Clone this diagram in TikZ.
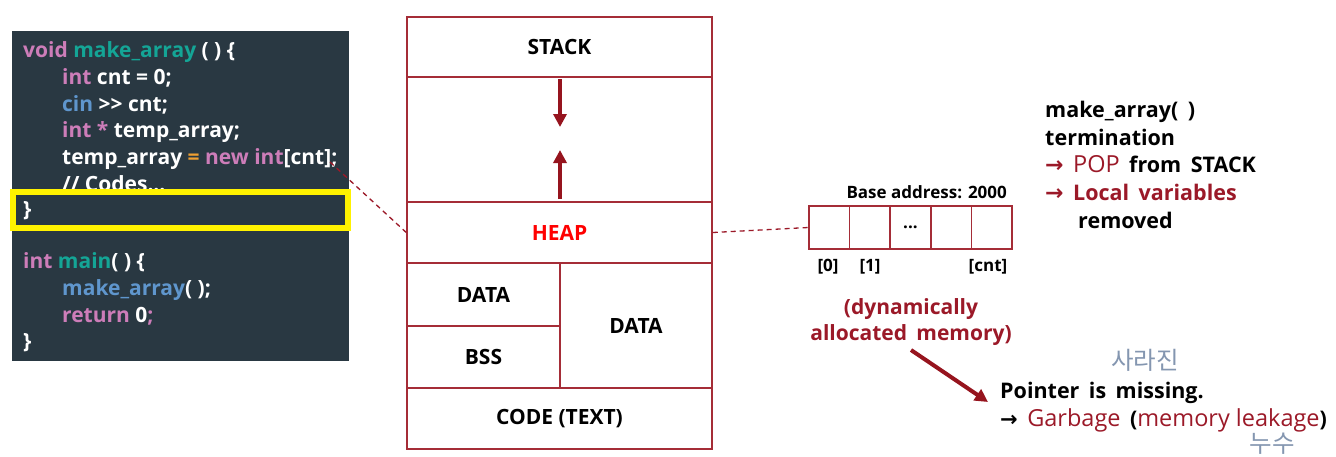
\documentclass[tikz,border=0pt]{standalone}
\usepackage{fontspec}
\setmainfont{Open Sans}
\newfontfamily\wide[WordSpace=1.7]{Open Sans}
\newfontfamily\kr{Noto Sans CJK KR}
\newfontfamily\arr{DejaVu Sans}
\usetikzlibrary{arrows.meta}
\definecolor{panel}{RGB}{41,56,66}
\definecolor{frame}{RGB}{165,45,55}
\definecolor{darr}{RGB}{150,20,30}
\definecolor{heapred}{RGB}{255,0,0}
\definecolor{dred}{RGB}{155,25,40}
\definecolor{cpink}{RGB}{205,125,185}
\definecolor{cteal}{RGB}{20,165,150}
\definecolor{cblue}{RGB}{95,150,205}
\definecolor{corange}{RGB}{240,160,50}
\definecolor{krgray}{RGB}{132,150,176}
\newcommand{\regw}[1]{{\rmfamily\mdseries\fontsize{23.5}{25}\selectfont #1}}
\newcommand{\rarr}{{\arr\fontsize{22}{25}\selectfont →}}
\tikzset{
  codeline/.style={anchor=base west,inner sep=0pt,text=white,font=\fontsize{21}{25}\selectfont\bfseries},
  seg/.style={draw=frame,line width=1.5pt,inner sep=0pt,font=\fontsize{21}{25}\selectfont\bfseries},
  cell/.style={draw=frame,line width=1.5pt,inner sep=0pt,minimum width=40.6pt,minimum height=43pt,font=\fontsize{17}{20}\selectfont\bfseries},
  lbl/.style={inner sep=0pt,font=\fontsize{17}{20}\selectfont\bfseries},
  txt/.style={anchor=base west,inner sep=0pt,font=\wide\fontsize{21.5}{25}\selectfont\bfseries},
  ctxt/.style={anchor=base,inner sep=0pt,font=\wide\fontsize{21}{25}\selectfont\bfseries},
  krl/.style={anchor=base,inner sep=0pt,text=krgray,font=\fontsize{24.5}{28}\kr\selectfont},
  bigarrow/.style={draw=darr,line width=4pt,-{Triangle[length=13pt,width=13pt]}},
  dashconn/.style={draw=dred,line width=1.3pt,dash pattern=on 5pt off 4pt}
}
\begin{document}
\begin{tikzpicture}[x=1pt,y=-1pt]
\useasboundingbox (0,0) rectangle (1336,456);
% code panel
\fill[panel] (12,31) rectangle (349,361);
\node[codeline] (l1) at (23,57) {\textcolor{cpink}{void} \textcolor{cteal}{make\_array} ( ) \{};
\node[codeline] (l2) at (62,84) {\textcolor{cpink}{int} cnt = 0;};
\node[codeline] (l3) at (62,111) {\textcolor{cblue}{cin} >{}> cnt;};
\node[codeline] (l4) at (62,137) {\textcolor{cpink}{int *} temp\_array;};
\node[codeline] (l5) at (62,164) {temp\_array \textcolor{corange}{=} \textcolor{cpink}{new int}[cnt];};
\node[codeline] (l6) at (62,191) {// Codes...};
\fill[panel] (16,195) rectangle (345,224);
\draw[yellow,line width=6pt] (13,191.5) rectangle (347.5,227.5);
\node[codeline] (l7) at (23,216) {\}};
\node[codeline] (l8) at (23,268) {\textcolor{cpink}{int} \textcolor{cteal}{main}( ) \{};
\node[codeline] (l9) at (62,295) {\textcolor{cblue}{make\_array}( );};
\node[codeline] (l10) at (62,322) {\textcolor{cpink}{return} 0\textcolor{cpink}{;}};
\node[codeline] (l11) at (23,348) {\}};
\coordinate (newend) at (330,162);
% memory layout
\node[seg,minimum width=305pt,minimum height=60pt] (stack) at (559.5,47) {STACK};
\node[seg,minimum width=305pt,minimum height=125pt] (gap) at (559.5,139.5) {};
\node[seg,minimum width=305pt,minimum height=61pt,text=heapred] (heap) at (559.5,232.5) {HEAP};
\node[seg,minimum width=153pt,minimum height=63pt] (data1) at (483.5,294.5) {DATA};
\node[seg,minimum width=153pt,minimum height=62pt] (bss) at (483.5,357) {BSS};
\node[seg,minimum width=152pt,minimum height=125pt] (data2) at (636,325.5) {DATA};
\node[seg,minimum width=305pt,minimum height=61pt] (code) at (559.5,418.5) {CODE (TEXT)};
\coordinate (d1s) at (560,79);
\coordinate (d1e) at (560,127);
\coordinate (u1s) at (560,199);
\coordinate (u1e) at (560,150);
\draw[bigarrow] (d1s) -- (d1e);
\draw[bigarrow] (u1s) -- (u1e);
\draw[dashconn] (newend) -- (heap.west);
% array
\node[cell] (c0) at (829.3,227.5) {};
\node[cell] (c1) at (869.9,227.5) {};
\node[cell] (c2) at (910.5,227.5) {...};
\node[cell] (c3) at (951.1,227.5) {};
\node[cell] (c4) at (991.7,227.5) {};
\draw[dashconn] (heap.east) -- (c0.west);
\node[lbl,anchor=base east] (base) at (1007,198) {Base address: 2000};
\node[lbl,anchor=base] (i0) at (828,271) {[0]};
\node[lbl,anchor=base] (i1) at (870,271) {[1]};
\node[lbl,anchor=base] (icnt) at (988,271) {[cnt]};
\node[ctxt,text=dred] (dyn1) at (911,314) {(dynamically};
\node[ctxt,text=dred] (dyn2) at (911,340) {allocated memory)};
% right texts
\node[txt] (t1) at (1045,117) {make\_array( )};
\node[txt] (t2) at (1045,145) {termination};
\node[txt] (t3) at (1045,172) {\textcolor{dred}{\rarr\ \regw{POP}} from STACK};
\node[txt] (t4) at (1045,200) {\textcolor{dred}{\rarr\ Local variables}};
\node[txt] (t5) at (1078,228) {removed};
% bottom right
\node[krl] (k1) at (1145,369) {사라진};
\node[txt] (p1) at (1000,398) {Pointer is missing.};
\node[txt] (p2) at (1000,426) {{\arr\bfseries\fontsize{21}{25}\selectfont →}\ \textcolor{dred}{\regw{Garbage}} (\textcolor{dred}{\regw{memory leakage}})};
\node[krl] (k2) at (1272,452) {누수};
\coordinate (pas) at (911,350);
\coordinate (pa) at (988,402);
\draw[bigarrow] (pas) -- (pa);
\end{tikzpicture}
\end{document}
